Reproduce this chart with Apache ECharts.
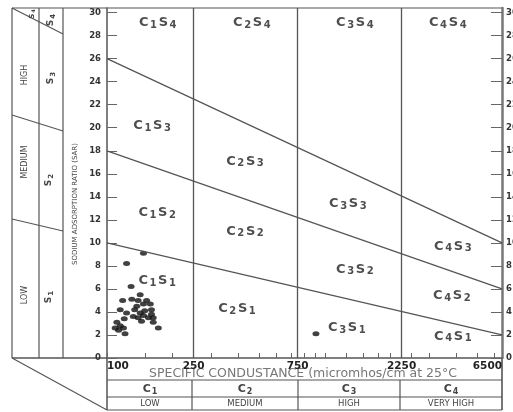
<!DOCTYPE html>
<html>
<head>
<meta charset="utf-8">
<script src="https://cdn.jsdelivr.net/npm/echarts@6/dist/echarts.min.js"></script>
<style>
  html, body { margin: 0; padding: 0; background: #fff; }
  #chart { width: 513px; height: 412px; }
</style>
</head>
<body>
<div id="chart"></div>
<script>
// axis ticks
const sarTicks = [0, 2, 4, 6, 8, 10, 12, 14, 16, 18, 20, 22, 24, 26, 28, 30]
const condLabels = [100, 250, 750, 2250, 6500]
const condTicks = [100, 150, 200, 250, 300, 400, 500, 600, 700, 750, 800, 900, 1000,
    1250, 1500, 1750, 2000, 2250, 2500, 3000, 4000, 5000, 6000]

// salinity class limits (EC) and sodium hazard boundaries (SAR at EC 100 and 6500)
const classBounds = [250, 750, 2250]
const lineEnds = [100, 6500]
const s1s2 = [10, 2]
const s2s3 = [18, 6]
const s3s4 = [26, 10]

// water samples
const sampleEC = [147, 123, 129, 142, 118, 130, 152, 139, 147, 158,
    115, 123, 134, 142, 149, 160, 147, 139, 155, 163,
    120, 144, 111, 115, 109, 119, 132, 163, 172, 113,
    121, 160, 137, 910]
const sampleSAR = [9.1, 8.2, 6.2, 5.5, 5.0, 5.1, 5.0, 5.0, 4.7, 4.7,
    4.2, 3.9, 4.2, 3.9, 4.1, 4.2, 3.7, 3.5, 3.5, 3.5,
    3.4, 3.2, 3.1, 2.8, 2.6, 2.6, 3.6, 3.1, 2.6, 2.4,
    2.1, 3.8, 4.5, 2.1]

// zone names
const zoneNames = ['C1S4', 'C2S4', 'C3S4', 'C4S4', 'C1S3', 'C2S3', 'C3S3', 'C4S3',
    'C1S2', 'C2S2', 'C3S2', 'C4S2', 'C1S1', 'C2S1', 'C3S1', 'C4S1']
const zoneEC = [171, 462, 1373, 3665, 161, 430, 1275, 3865,
    170, 430, 1373, 3824, 170, 395, 1262, 3865]
const zoneSAR = [29.1, 29.1, 29.1, 29.1, 20.2, 17.1, 13.4, 9.7,
    12.6, 11.0, 7.7, 5.4, 6.7, 4.3, 2.6, 1.9]

const classNames = ['C1', 'C2', 'C3', 'C4']
const classWords = ['LOW', 'MEDIUM', 'HIGH', 'VERY HIGH']

const FONT = 'DejaVu Sans'
const INK = '#555'

const seg = (x1, y1, x2, y2, w = 1.2, c = INK) => ({
    type: 'line', silent: true,
    shape: { x1, y1, x2, y2 },
    style: { stroke: c, lineWidth: w }
})
const txt = (x, y, text, size, rot = 0, extra = {}) => ({
    type: 'text', silent: true, x, y, rotation: rot,
    style: Object.assign({
        text, fontSize: size, fontFamily: FONT, fill: '#444',
        align: 'center', verticalAlign: 'middle'
    }, extra)
})
const subRich = (big, small, color, pad = 0.5) => ({
    c: { fontSize: big, fontWeight: 'bold', fontFamily: FONT, color, padding: [0, pad], lineHeight: big + 2 },
    n: { fontSize: small, fontWeight: 'bold', fontFamily: FONT, color, padding: [0, pad], lineHeight: small, verticalAlign: 'bottom' }
})
const subText = name => name.replace(/([A-Z])(\d)/g, '{c|$1}{n|$2}')

const ROT = Math.PI / 2
const graphics = [
    // top border and left panel columns
    seg(12, 8, 502, 8),
    seg(12, 8, 12, 358), seg(39, 8, 39, 358), seg(63, 8, 63, 358),
    seg(12, 8, 63, 34), seg(12, 115, 63, 131), seg(12, 219, 63, 231),
    seg(12, 358, 107, 358, 1.5),
    seg(12, 358, 107, 410),
    // bottom panel
    seg(107, 358, 107, 410, 1.5), seg(502, 358, 502, 410, 2, '#777'),
    seg(107, 380, 502, 380), seg(107, 397, 502, 397), seg(107, 410, 502, 410),
    seg(192, 380, 192, 410), seg(298, 380, 298, 410), seg(400, 380, 400, 410),
    // left panel labels
    txt(25, 75, 'HIGH', 8, ROT),
    txt(25, 162, 'MEDIUM', 8, ROT),
    txt(25, 295, 'LOW', 8, ROT),
    txt(32, 14, '{c|S}{n|4}', 6, ROT, { rich: subRich(7, 5, '#666') }),
    txt(51, 20, '{c|S}{n|4}', 9, ROT, { rich: subRich(9, 7, '#444') }),
    txt(51, 78, '{c|S}{n|3}', 9, ROT, { rich: subRich(9, 7, '#444') }),
    txt(49, 180, '{c|S}{n|2}', 9, ROT, { rich: subRich(9, 7, '#444') }),
    txt(49, 297, '{c|S}{n|1}', 9, ROT, { rich: subRich(9, 7, '#444') }),
    txt(75, 204, 'SODIUM ADSORPTION RATIO (SAR)', 7, ROT),
    // bottom panel labels
    txt(303, 374, 'SPECIFIC CONDUSTANCE (micromhos/cm at 25°C', 12.5, 0, { fill: '#777' })
]
const cellCenters = [150, 245, 349, 451]
classNames.forEach((c, i) => {
    graphics.push(txt(cellCenters[i], 389, subText(c), 10, 0, { rich: subRich(11, 8, '#444') }))
    graphics.push(txt(cellCenters[i], 404, classWords[i], 8.5))
})

const boundaryLine = (name, sar) => ({
    name, type: 'line', silent: true, symbol: 'none',
    data: lineEnds.map((ec, i) => [ec, sar[i]]),
    lineStyle: { color: INK, width: 1.3 }
})

const chart = echarts.init(document.getElementById('chart'))
const log10 = v => Math.log10(v)

chart.setOption({
    animation: false,
    grid: { left: 107, right: 11, top: 8, bottom: 54, outerBoundsMode: 'none', containLabel: false },
    xAxis: [
        {
            type: 'log', logBase: 10, min: 100, max: 6500,
            axisLine: { show: true, lineStyle: { color: INK, width: 1.5 } },
            axisTick: { show: false }, axisLabel: { show: false },
            splitLine: { show: false }, minorTick: { show: false }
        },
        {
            type: 'value', min: log10(100), max: log10(6500), position: 'bottom',
            axisLine: { show: false },
            axisTick: { show: true, inside: true, length: 5, customValues: condTicks.map(log10), lineStyle: { color: '#666' } },
            axisLabel: {
                customValues: condLabels.map(log10),
                formatter: v => String(Math.round(Math.pow(10, v))),
                fontFamily: FONT, fontWeight: 'bold', fontSize: 10.5, color: '#222', margin: 3,
                alignMinLabel: 'left', alignMaxLabel: 'right'
            },
            splitLine: { show: false }
        }
    ],
    yAxis: [
        {
            type: 'value', min: 0, max: 30.4, position: 'left',
            axisLine: { show: true, lineStyle: { color: INK, width: 1.5 } },
            axisTick: { show: true, inside: true, length: 10, customValues: sarTicks, lineStyle: { color: '#666' } },
            axisLabel: { customValues: sarTicks, fontFamily: FONT, fontWeight: 'bold', fontSize: 8.5, color: '#333', margin: 6 },
            splitLine: { show: false }
        },
        {
            type: 'value', min: 0, max: 30.4, position: 'right',
            axisLine: { show: true, lineStyle: { color: '#777', width: 2.5 } },
            axisTick: { show: true, inside: true, length: 11, customValues: sarTicks, lineStyle: { color: '#666' } },
            axisLabel: { customValues: sarTicks, fontFamily: FONT, fontWeight: 'bold', fontSize: 8.5, color: '#333', margin: 4 },
            splitLine: { show: false }
        }
    ],
    series: [
        Object.assign(boundaryLine('S1/S2', s1s2), {
            markLine: {
                silent: true, symbol: 'none', label: { show: false },
                lineStyle: { color: INK, width: 1.3, type: 'solid' },
                data: classBounds.map(v => ({ xAxis: v }))
            }
        }),
        boundaryLine('S2/S3', s2s3),
        boundaryLine('S3/S4', s3s4),
        {
            name: 'samples', type: 'scatter', silent: true,
            symbol: 'circle', symbolSize: [7, 5],
            itemStyle: { color: '#111' },
            data: sampleEC.map((ec, i) => [ec, sampleSAR[i]])
        },
        {
            name: 'zones', type: 'scatter', silent: true,
            symbolSize: 0,
            data: zoneNames.map((n, i) => ({ name: n, value: [zoneEC[i], zoneSAR[i]] })),
            label: {
                show: true, position: 'inside',
                formatter: p => subText(p.name),
                rich: subRich(13, 10, '#222', 0.8)
            }
        }
    ],
    graphic: graphics
})
</script>
</body>
</html>
